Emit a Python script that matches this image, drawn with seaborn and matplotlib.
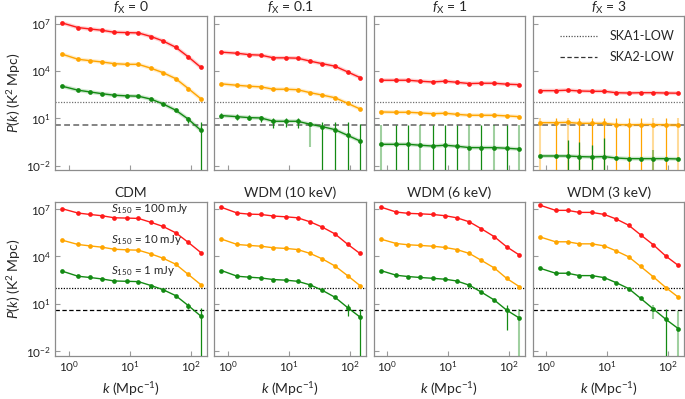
import numpy as np
import pandas as pd
import matplotlib
matplotlib.use("Agg")
import matplotlib.pyplot as plt
import seaborn as sns
from matplotlib.ticker import FixedLocator, LogFormatterSciNotation, NullLocator
from matplotlib.lines import Line2D

# ---------------- data ----------------
K = [0.78, 1.41, 2.22, 3.46, 5.56, 8.89, 13.8, 22.3, 35.1, 56.7, 91.2, 146.0]

SOURCES = ["S150 = 100 mJy", "S150 = 10 mJy", "S150 = 1 mJy"]
PANEL_TITLES = [r"$f_{\mathrm{X}}$ = 0", r"$f_{\mathrm{X}}$ = 0.1", r"$f_{\mathrm{X}}$ = 1", r"$f_{\mathrm{X}}$ = 3",
                "CDM", "WDM (10 keV)", "WDM (6 keV)", "WDM (3 keV)"]

# log10 P(k) [K^2 Mpc]
FX0_100 = [7.04, 6.75, 6.66, 6.58, 6.45, 6.43, 6.41, 6.18, 5.90, 5.50, 4.89, 4.23]
FX0_10 = [5.06, 4.74, 4.65, 4.57, 4.46, 4.42, 4.42, 4.17, 3.89, 3.51, 2.88, 2.24]
FX0_1 = [3.03, 2.78, 2.67, 2.56, 2.46, 2.42, 2.40, 2.21, 1.91, 1.51, 0.94, 0.24]

FX01_100 = [5.19, 5.12, 5.03, 5.00, 4.83, 4.83, 4.81, 4.62, 4.46, 4.30, 3.94, 3.58]
FX01_10 = [3.18, 3.09, 3.03, 2.99, 2.84, 2.84, 2.81, 2.62, 2.47, 2.30, 1.95, 1.59]
FX01_1 = [1.17, 1.10, 1.04, 1.02, 0.81, 0.81, 0.81, 0.62, 0.47, 0.28, -0.08, -0.44]

FX1_100 = [3.41, 3.41, 3.41, 3.35, 3.30, 3.35, 3.28, 3.20, 3.22, 3.22, 3.16, 3.13]
FX1_10 = [1.40, 1.38, 1.38, 1.34, 1.29, 1.32, 1.25, 1.19, 1.19, 1.19, 1.15, 1.10]
FX1_1 = [-0.65, -0.65, -0.65, -0.71, -0.76, -0.71, -0.77, -0.86, -0.86, -0.86, -0.90, -0.95]

FX3_100 = [2.75, 2.75, 2.78, 2.73, 2.71, 2.71, 2.62, 2.60, 2.62, 2.62, 2.60, 2.59]
FX3_10 = [0.72, 0.72, 0.74, 0.68, 0.68, 0.68, 0.60, 0.58, 0.60, 0.60, 0.58, 0.56]
FX3_1 = [-1.39, -1.39, -1.39, -1.43, -1.45, -1.43, -1.52, -1.56, -1.56, -1.56, -1.56, -1.58]

CDM_100 = [7.02, 6.75, 6.66, 6.58, 6.45, 6.43, 6.41, 6.16, 5.90, 5.50, 4.89, 4.25]
CDM_10 = [5.03, 4.76, 4.67, 4.59, 4.46, 4.42, 4.40, 4.16, 3.89, 3.51, 2.86, 2.22]
CDM_1 = [3.07, 2.75, 2.67, 2.58, 2.45, 2.43, 2.41, 2.16, 1.90, 1.52, 0.89, 0.23]

WDM10_100 = [7.11, 6.75, 6.68, 6.66, 6.56, 6.51, 6.45, 6.19, 5.86, 5.43, 4.78, 4.19]
WDM10_10 = [5.10, 4.76, 4.70, 4.65, 4.55, 4.51, 4.44, 4.19, 3.85, 3.40, 2.79, 2.16]
WDM10_1 = [3.11, 2.75, 2.69, 2.64, 2.54, 2.50, 2.43, 2.20, 1.86, 1.42, 0.77, 0.17]

WDM6_100 = [7.13, 6.81, 6.73, 6.70, 6.66, 6.58, 6.45, 6.19, 5.75, 5.26, 4.61, 4.10]
WDM6_10 = [5.10, 4.82, 4.74, 4.70, 4.65, 4.57, 4.44, 4.19, 3.75, 3.28, 2.61, 2.10]
WDM6_1 = [3.11, 2.81, 2.73, 2.67, 2.62, 2.56, 2.45, 2.18, 1.74, 1.25, 0.60, 0.11]

WDM3_100 = [7.25, 6.92, 6.92, 6.79, 6.79, 6.66, 6.38, 5.98, 5.37, 4.74, 4.02, 3.43]
WDM3_10 = [5.24, 4.93, 4.93, 4.80, 4.80, 4.67, 4.36, 3.98, 3.37, 2.71, 2.03, 1.42]
WDM3_1 = [3.26, 2.94, 2.94, 2.79, 2.79, 2.66, 2.35, 1.97, 1.35, 0.68, 0.02, -0.57]

# error bars: (point index, log10 upper, log10 lower, light?) ; -6 = off the bottom
ERR_FX0_1 = [(10, 1.06, 0.72, False), (11, 0.75, -6, False)]
ERR_FX01_1 = [(0, 1.32, 1.01, False), (1, 1.27, 0.89, False), (2, 1.22, 0.86, False),
              (3, 1.15, 0.79, False), (4, 1.00, 0.40, False), (5, 1.00, 0.45, False),
              (6, 1.00, 0.40, False), (7, 0.79, -0.84, True), (8, 0.79, -6, False),
              (9, 0.79, -6, False), (10, 0.75, -6, False), (11, 0.62, -6, False)]
ERR_FX1_1 = [(i, 0.60, -6, i in (0, 3, 7, 9, 11)) for i in range(12)]
ERR_FX3_10 = [(i, 1.00, -6, i in (0, 2, 9, 11)) for i in range(12)]
ERR_FX3_1 = [(2, -0.37, -6, False), (3, -0.48, -6, False), (4, -0.69, -6, False),
             (5, -0.27, -6, False), (9, -1.00, -6, True)]
ERR_CDM_1 = [(10, 1.06, 0.68, False), (11, 0.77, -6, False)]
ERR_WDM10_1 = [(10, 0.98, 0.22, False), (11, 0.70, -6, False)]
ERR_WDM6_1 = [(10, 0.91, -0.67, False), (11, 0.70, -6, True)]
ERR_WDM3_1 = [(9, 0.96, 0.02, True), (10, 0.70, -6, False), (11, 0.55, -6, True)]

SKA1_LOW = 100.0
SKA2_LOW = 4.0

PANELS = [
    (FX0_100, FX0_10, FX0_1, [], ERR_FX0_1),
    (FX01_100, FX01_10, FX01_1, [], ERR_FX01_1),
    (FX1_100, FX1_10, FX1_1, [], ERR_FX1_1),
    (FX3_100, FX3_10, FX3_1, ERR_FX3_10, ERR_FX3_1),
    (CDM_100, CDM_10, CDM_1, [], ERR_CDM_1),
    (WDM10_100, WDM10_10, WDM10_1, [], ERR_WDM10_1),
    (WDM6_100, WDM6_10, WDM6_1, [], ERR_WDM6_1),
    (WDM3_100, WDM3_10, WDM3_1, [], ERR_WDM3_1),
]
COLORS = ["#ff1a1a", "#ffa500", "#138a13"]

# ---------------- style ----------------
sns.set_style("ticks")
plt.rcParams["font.family"] = ["Lato", "DejaVu Sans"]
plt.rcParams["mathtext.fontset"] = "custom"
plt.rcParams["mathtext.rm"] = "Lato"
plt.rcParams["mathtext.it"] = "Lato:italic"
plt.rcParams["mathtext.bf"] = "Lato:bold"

fig = plt.figure(figsize=(6.85, 3.99), dpi=100)
left0, w, step = 0.0807, 0.2212, 0.2324
rows = [(0.5739, 0.3867), (0.1085, 0.3845)]
spine_col = "#8c8c8c"

for p, (s100, s10, s1, err10, err1) in enumerate(PANELS):
    r, c = divmod(p, 4)
    b, h = rows[r]
    ax = fig.add_axes([left0 + c * step, b, w, h])
    top = r == 0

    df = pd.DataFrame({
        "k": K * 3,
        "P": np.power(10.0, np.array(s100 + s10 + s1)),
        "src": sum([[s] * len(K) for s in SOURCES], []),
    })

    ref_col = "#707070" if top else "black"
    ax.axhline(SKA1_LOW, color=ref_col, ls=(0, (1, 1.2)), lw=0.9, zorder=1)
    ax.axhline(SKA2_LOW, color=ref_col, ls=(0, (3.5, 2)), lw=1.2 if top else 0.9, zorder=1)

    if top:
        for s, col in zip(SOURCES, COLORS):
            d = df[df.src == s]
            ax.plot(d.k, d.P, color=col, lw=2.8, alpha=0.2, zorder=2, solid_capstyle="round")

    sns.lineplot(data=df, x="k", y="P", hue="src", palette=COLORS, hue_order=SOURCES,
                 marker="o", markersize=3.4, markeredgewidth=0, lw=1.0,
                 legend=False, ax=ax, zorder=3)

    for ci, errs in ((1, err10), (2, err1)):
        for (i, hi, lo, light) in errs:
            ax.vlines(K[i], 10 ** lo, 10 ** hi, color=COLORS[ci],
                      lw=1.5 if light else 0.9, alpha=0.4 if light else 1.0, zorder=2.5 + ci * 0.1)

    ax.set_xscale("log")
    ax.set_yscale("log")
    ax.set_xlim(10 ** -0.223, 10 ** 2.263)
    ax.set_ylim(10 ** -2.28, 10 ** (7.5 if top else 7.43))
    ax.yaxis.set_major_locator(FixedLocator([1e-2, 1e1, 1e4, 1e7]))
    ax.yaxis.set_major_formatter(LogFormatterSciNotation())
    ax.xaxis.set_major_locator(FixedLocator([1, 10, 100]))
    ax.xaxis.set_major_formatter(LogFormatterSciNotation())
    ax.yaxis.set_minor_locator(NullLocator())
    ax.xaxis.set_minor_locator(NullLocator())
    ax.tick_params(direction="in", length=3.5, width=0.8, color="#9a9a9a",
                   labelsize=8.5, labelcolor="#222222", pad=3)
    for sp in ax.spines.values():
        sp.set_color(spine_col)
        sp.set_linewidth(0.9)
    ax.set_xlabel("")
    ax.set_ylabel("")
    if r == 0:
        ax.set_xticklabels([])
    else:
        ax.set_xlabel(r"$k$ (Mpc$^{-1}$)", fontsize=10, labelpad=4)
    if c != 0:
        ax.set_yticklabels([])
    else:
        ax.set_ylabel(r"$P$($k$) (K$^2$ Mpc)", fontsize=10, labelpad=2)
    ax.set_title(PANEL_TITLES[p], fontsize=10, pad=1.0 if top else 4)

    if p == 4:
        for txt, yy in zip([r"$S_{150}$ = 100 mJy", r"$S_{150}$ = 10 mJy", r"$S_{150}$ = 1 mJy"],
                           [0.958, 0.755, 0.55]):
            ax.text(0.366, yy, txt, transform=ax.transAxes, fontsize=8.3, va="center", ha="left")
    if p == 3:
        handles = [Line2D([], [], color="#555555", ls=(0, (1, 1.2)), lw=0.9),
                   Line2D([], [], color="#333333", ls=(0, (3.5, 2)), lw=0.9)]
        ax.legend(handles, ["SKA1-LOW", "SKA2-LOW"], loc="upper right", frameon=False,
                  fontsize=9, handlelength=3.0, handletextpad=1.0, labelspacing=0.7,
                  borderaxespad=0.4, bbox_to_anchor=(1.0, 0.97))

fig.savefig("out.png", dpi=100)
